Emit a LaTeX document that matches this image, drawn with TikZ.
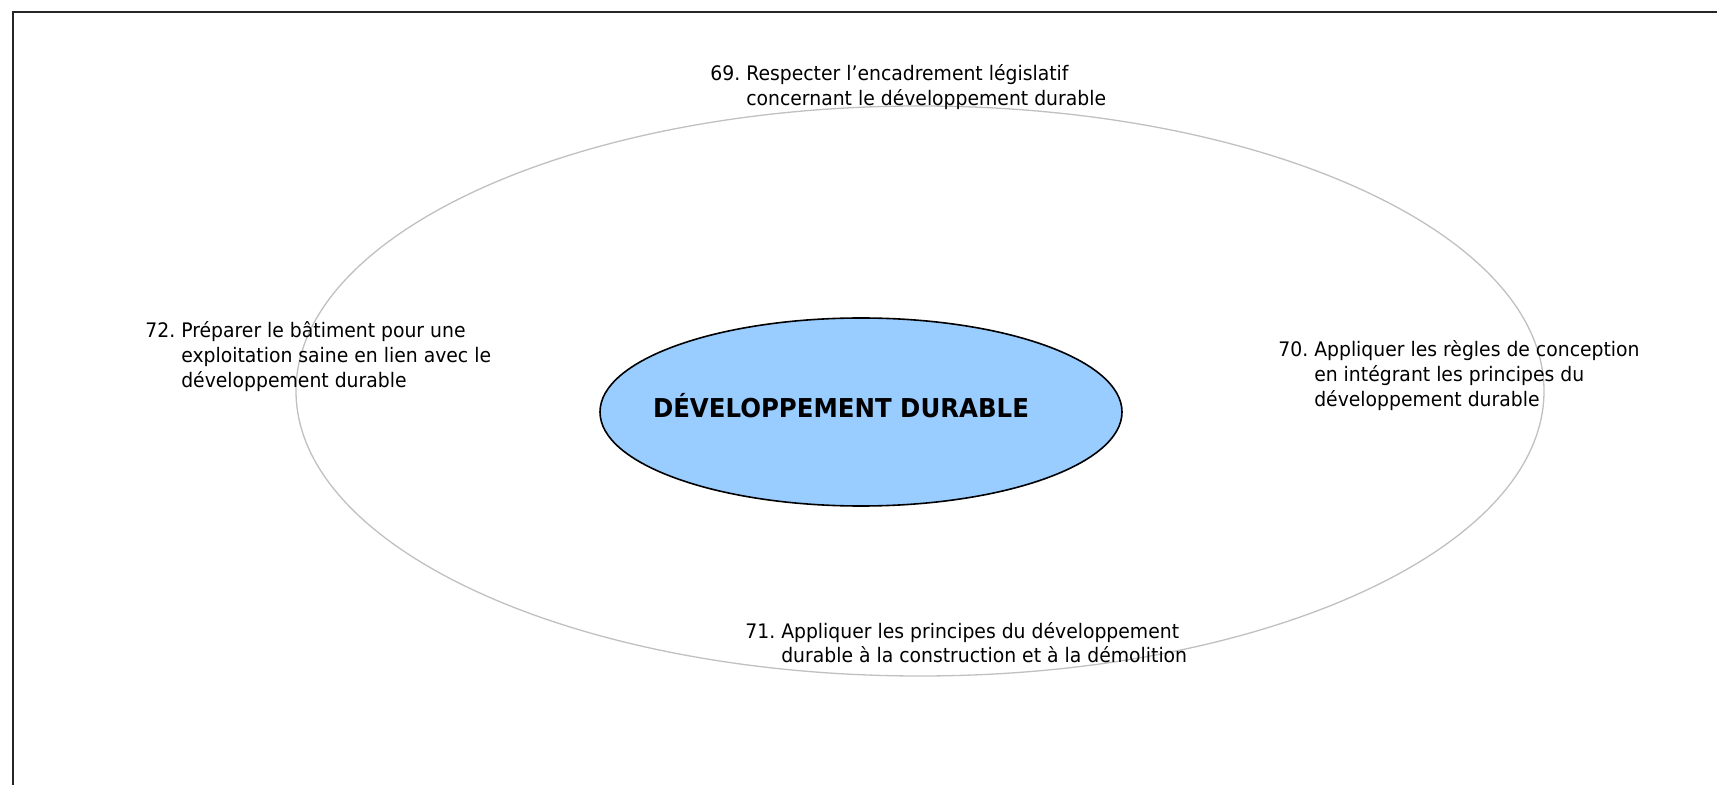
\documentclass[tikz,border=0pt]{standalone}
\usepackage{fontspec}
\setmainfont[FakeStretch=0.94]{DejaVu Sans}
\usetikzlibrary{shapes.geometric}
\definecolor{corefill}{RGB}{153,204,255}
\definecolor{ringgray}{RGB}{192,192,192}
\begin{document}
\begin{tikzpicture}[x=0.5pt,y=-0.5pt,
  frame/.style={draw=black!85, line width=1pt},
  ring/.style={ellipse, draw=ringgray, line width=0.65pt, minimum width=624pt, minimum height=285pt, inner sep=0pt},
  core/.style={ellipse, draw=black, fill=corefill, line width=0.8pt, minimum width=261pt, minimum height=94pt, inner sep=0pt},
  title/.style={inner sep=0pt, anchor=base, font=\fontsize{13}{15}\selectfont\bfseries},
  lbl/.style={inner sep=0pt, anchor=base west, font=\fontsize{10}{12.3}\selectfont}]
\useasboundingbox (0,0) rectangle (1717,785);
\draw[frame] (13,785) -- (13,12) -- (1717,12);
\node[ring] (ring) at (920,391) {};
\node[core] (core) at (861,412) {};
\node[title] (title) at (841,418) {DÉVELOPPEMENT DURABLE};
\node[lbl] (t69) at (710,81) {\begin{tabular}[t]{@{}l@{\ }l@{}}69. & Respecter l’encadrement législatif\\ & concernant le développement durable\end{tabular}};
\node[lbl] (t70) at (1278,357) {\begin{tabular}[t]{@{}l@{\ }l@{}}70. & Appliquer les règles de conception\\ & en intégrant les principes du\\ & développement durable\end{tabular}};
\node[lbl] (t71) at (745,638) {\begin{tabular}[t]{@{}l@{\ }l@{}}71. & Appliquer les principes du développement\\ & durable à la construction et à la démolition\end{tabular}};
\node[lbl] (t72) at (145,338) {\begin{tabular}[t]{@{}l@{\ }l@{}}72. & Préparer le bâtiment pour une\\ & exploitation saine en lien avec le\\ & développement durable\end{tabular}};
\end{tikzpicture}
\end{document}
